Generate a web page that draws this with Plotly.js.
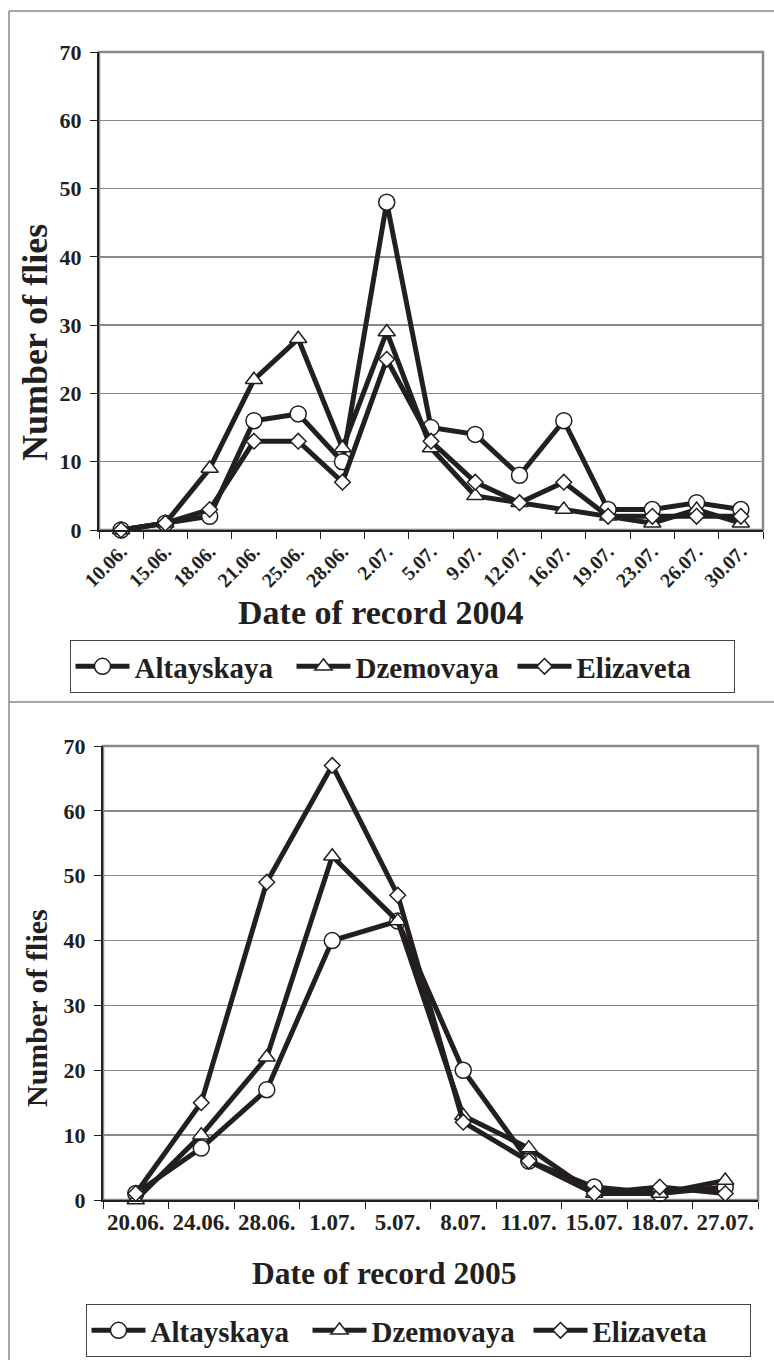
<!DOCTYPE html>
<html><head><meta charset="utf-8">
<script src="https://cdn.plot.ly/plotly-3.0.1.min.js"></script>
<style>body{margin:0;background:#fff}#chart{width:774px;height:1360px}</style>
</head><body><div id="chart"></div><script>
// ---- data 2004 ----
const dates2004 = ["10.06.","15.06.","18.06.","21.06.","25.06.","28.06.","2.07.","5.07.","9.07.","12.07.","16.07.","19.07.","23.07.","26.07.","30.07."];
const altay2004 = [0,1,2,16,17,10,48,15,14,8,16,3,3,4,3];
const dzem2004  = [0,1,9,22,28,12,29,12,5,4,3,2,1,3,1];
const eliz2004  = [0,1,3,13,13,7,25,13,7,4,7,2,2,2,2];
// ---- data 2005 ----
const dates2005 = ["20.06.","24.06.","28.06.","1.07.","5.07.","8.07.","11.07.","15.07.","18.07.","27.07."];
const altay2005 = [1,8,17,40,43,20,6,2,1,2];
const dzem2005  = [0,10,22,53,43,13,8,1,1,3];
const eliz2005  = [1,15,49,67,47,12,6,1,2,1];
const seriesNames = ["Altayskaya","Dzemovaya","Elizaveta"];
const yTicks = [0,10,20,30,40,50,60,70];

const W = 774, H = 1360;
const px = v => v / W, py = v => 1 - v / H;
const INK = "#231f20";
const GRID = "#8a8a8a";
const FONT = "Liberation Serif, Times New Roman, serif";
const symbols = ["circle","triangle-up","diamond"];
const sizes = [16,15,12];

function mk(x, ys, xa, ya, leg) {
  return ys.map((y, i) => ({
    type: "scatter", mode: "lines+markers", x: x, y: y, name: seriesNames[i],
    xaxis: xa, yaxis: ya, legend: leg, cliponaxis: false,
    line: {color: INK, width: 5},
    marker: {symbol: symbols[i], size: sizes[i], color: "#fff", line: {color: INK, width: 1.5}}
  }));
}
const traces = [
  ...mk(dates2004, [altay2004, dzem2004, eliz2004], "x", "y", "legend"),
  ...mk(dates2005, [altay2005, dzem2005, eliz2005], "x2", "y2", "legend2")
];

const f = (size) => ({family: FONT, size: size, color: INK, weight: "bold"});
const yBase = {range: [0,70], tickvals: yTicks, showgrid: true, gridcolor: GRID, gridwidth: 1.4,
  showline: true, linecolor: INK, linewidth: 2, ticks: "outside", ticklen: 7, tickcolor: INK,
  tickfont: f(22), ticklabelstandoff: 4, zeroline: false, fixedrange: true};
const xBase = {type: "category", showline: true, linecolor: INK, linewidth: 2, ticks: "outside",
  ticklen: 7, tickcolor: INK, tickson: "boundaries", showgrid: false, zeroline: false};
const legBase = {orientation: "h", xanchor: "center", yanchor: "top",
  bordercolor: "#444", borderwidth: 1, bgcolor: "#fff", itemwidth: 54, entrywidth: 152,
  font: f(29), itemclick: false};
const ann = (text, x, y, size, angle) => ({text: text, xref: "paper", yref: "paper", x: px(x), y: py(y),
  xanchor: "center", yanchor: "middle", showarrow: false, textangle: angle, font: f(size)});

const layout = {
  width: W, height: H, margin: {l:0, r:0, t:0, b:0}, paper_bgcolor: "#fff", plot_bgcolor: "#fff",
  font: {family: FONT, color: INK},
  xaxis: Object.assign({}, xBase, {domain: [px(99), px(763)], anchor: "y", tickangle: -45,
    range: [-0.5, dates2004.length - 0.5], tickfont: f(20)}),
  yaxis: Object.assign({}, yBase, {domain: [py(530), py(52)], anchor: "x"}),
  xaxis2: Object.assign({}, xBase, {domain: [px(103), px(758)], anchor: "y2", tickangle: 0,
    range: [-0.5, dates2005.length - 0.5], tickfont: f(23)}),
  yaxis2: Object.assign({}, yBase, {domain: [py(1200), py(746)], anchor: "x2"}),
  legend: Object.assign({}, legBase, {x: px(402), y: py(640)}),
  legend2: Object.assign({}, legBase, {x: px(418), y: py(1304)}),
  shapes: [
    {type: "line", xref: "paper", yref: "paper", x0: px(9), x1: px(9), y0: py(11), y1: py(1360), line: {color: GRID, width: 1.5}},
    {type: "line", xref: "paper", yref: "paper", x0: px(9), x1: px(774), y0: py(11), y1: py(11), line: {color: GRID, width: 1.5}},
    {type: "line", xref: "paper", yref: "paper", x0: px(9), x1: px(774), y0: py(702), y1: py(702), line: {color: GRID, width: 1.5}},
    {type: "rect", xref: "x domain", yref: "y domain", x0: 0, x1: 1, y0: 0, y1: 1, layer: "below", line: {color: GRID, width: 2.5}},
    {type: "rect", xref: "x2 domain", yref: "y2 domain", x0: 0, x1: 1, y0: 0, y1: 1, layer: "below", line: {color: GRID, width: 2.5}}
  ],
  annotations: [
    ann("Date of record 2004", 380, 613, 34, 0),
    ann("Number of flies", 35, 343, 36, -90),
    ann("Date of record 2005", 384, 1273, 31.5, 0),
    ann("Number of flies", 36, 1008, 30, -90)
  ]
};
Plotly.newPlot("chart", traces, layout, {staticPlot: true, displayModeBar: false});
</script></body></html>
